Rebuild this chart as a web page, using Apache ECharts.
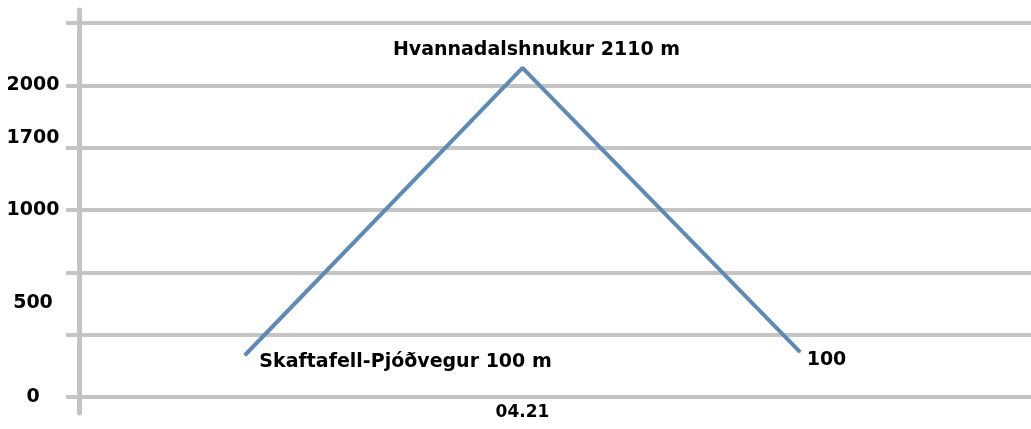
<!DOCTYPE html>
<html>
<head>
<meta charset="utf-8">
<script src="https://cdn.jsdelivr.net/npm/echarts@6/dist/echarts.min.js"></script>
<style>
  html, body { margin: 0; padding: 0; background: #fff; }
  #chart { width: 1031px; height: 429px; }
</style>
</head>
<body>
<div id="chart"></div>
<script>
// points of the route (start, summit, end)
var places = ['Skaftafell-Pjóðvegur', 'Hvannadalshnukur', 'Skaftafell-Pjóðvegur'];
var elevations = [100, 2110, 100];
var pointLabels = ['Skaftafell-Pjóðvegur 100 m', 'Hvannadalshnukur 2110 m', '100'];
// the original y scale is not linear: heights read in gridline steps
var levels = [0.67, 5.28, 0.72];
var xTickLabels = ['', '04.21', ''];
// y tick labels and where they sit (in gridline steps)
var yTickLabels = ['0', '500', '1000', '1700', '2000'];
var yTickLevels = [0, 1.5, 3, 4.15, 5];

var gridColor = '#c4c4c4';
var font = 'DejaVu Sans';

var myChart = echarts.init(document.getElementById('chart'));

var option = {
  animation: false,
  backgroundColor: '#fff',
  grid: [
    { left: 66, right: 0, top: 23, bottom: 32, outerBoundsMode: 'none' },   // gridlines + labels
    { left: 79, right: 0, top: 10, bottom: 16, outerBoundsMode: 'none' },   // vertical axis line
    { left: 106, right: 92, top: 23, bottom: 32, outerBoundsMode: 'none' }  // the line
  ],
  xAxis: [
    { gridIndex: 0, type: 'value', show: false, min: 0, max: 1 },
    { gridIndex: 1, type: 'value', show: false, min: 0, max: 1 },
    {
      gridIndex: 2,
      type: 'category',
      data: places,
      boundaryGap: true,
      axisLine: { show: false },
      axisTick: { show: false },
      axisLabel: {
        margin: 7,
        color: '#000',
        fontFamily: font,
        fontWeight: 'bold',
        fontSize: 17,
        formatter: function (v, i) { return xTickLabels[i]; }
      }
    }
  ],
  yAxis: [
    {
      gridIndex: 0, type: 'value', position: 'left', min: 0, max: 6, interval: 1,
      axisLine: { show: false }, axisTick: { show: false }, axisLabel: { show: false },
      splitLine: { show: true, lineStyle: { color: gridColor, width: 4 } }
    },
    {
      gridIndex: 0, type: 'value', position: 'left', min: 0, max: 6, interval: 0.05,
      axisLine: { show: false }, axisTick: { show: false },
      splitLine: { show: false },
      axisLabel: {
        margin: 33,
        align: 'center',
        color: '#000',
        fontFamily: font,
        fontWeight: 'bold',
        fontSize: 19,
        padding: [5, 0, 0, 0],
        formatter: function (v) {
          for (var i = 0; i < yTickLevels.length; i++) {
            if (Math.abs(v - yTickLevels[i]) < 0.001) return yTickLabels[i];
          }
          return '';
        }
      }
    },
    {
      gridIndex: 1, type: 'value', position: 'left', min: 0, max: 1,
      axisLine: { show: true, lineStyle: { color: gridColor, width: 5 } },
      axisTick: { show: false }, axisLabel: { show: false }, splitLine: { show: false }
    },
    { gridIndex: 2, type: 'value', min: 0, max: 6, show: false }
  ],
  series: [{
    type: 'line',
    xAxisIndex: 2,
    yAxisIndex: 3,
    symbol: 'circle',
    symbolSize: 1,
    showSymbol: true,
    itemStyle: { color: '#5f8ab3' },
    lineStyle: { color: '#5f8ab3', width: 4 },
    label: {
      show: true,
      color: '#000',
      fontFamily: font,
      fontWeight: 'bold',
      fontSize: 19,
      formatter: function (p) { return pointLabels[p.dataIndex]; }
    },
    data: levels.map(function (v, i) {
      var item = { value: v, name: places[i] + ' ' + elevations[i] };
      if (i === 1) {
        item.label = { position: 'top', distance: 8, offset: [14, 0] };
      } else if (i === 0) {
        item.label = { position: 'right', distance: 14, offset: [0, 7] };
      } else {
        item.label = { position: 'right', distance: 6, offset: [0, 8] };
      }
      return item;
    })
  }]
};

myChart.setOption(option);
</script>
</body>
</html>
